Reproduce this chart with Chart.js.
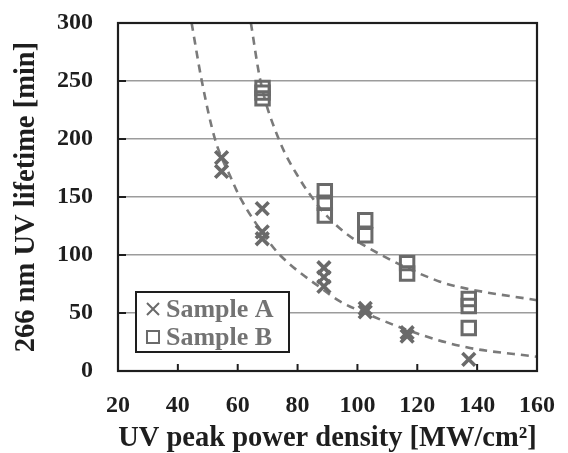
<!DOCTYPE html>
<html>
<head>
<meta charset="utf-8">
<script src="https://cdn.jsdelivr.net/npm/chart.js@4.4.0/dist/chart.umd.min.js"></script>
<style>
  html, body { margin: 0; padding: 0; background: #fff; }
  #wrap { width: 568px; height: 453px; }
</style>
</head>
<body>
<div id="wrap"><canvas id="chart"></canvas></div>
<script>
// measured points
const powerA = [54.6, 54.6, 68.2, 68.2, 68.2, 88.8, 88.8, 88.8, 102.6, 102.6, 116.6, 116.6, 137.2];
const lifeA  = [184, 172, 140, 120, 114, 89, 81, 73, 54, 51, 33, 30, 10];
const powerB = [68.3, 68.3, 68.3, 89.1, 89.1, 89.1, 102.6, 102.6, 116.6, 116.6, 137.2, 137.2, 137.2];
const lifeB  = [244, 240, 235, 155, 145, 134, 130, 117, 93, 84, 62, 56, 37];

// dashed fit curves
const fitAx = [44.6, 48, 52.4, 58, 60.7, 69.7, 74.1, 88.6, 94.2, 102.5, 119.8, 136.5, 160];
const fitAy = [300, 250, 200, 165, 150, 114, 100, 70, 60, 50, 32.5, 20.4, 12.3];
const fitBx = [64.4, 67.6, 73.7, 80.8, 85.3, 88.6, 96, 108, 127.6, 136.5, 160];
const fitBy = [300, 250, 200, 165, 148, 137, 119, 100, 77, 71, 61];

const xTicks = [20, 40, 60, 80, 100, 120, 140, 160];
const yTicks = [0, 50, 100, 150, 200, 250, 300];

const FONT = 'Liberation Serif';
const markGray = '#6a6a6a';
const ink = '#1e1e1e';

const toPts = (xs, ys) => xs.map((x, i) => ({ x: x, y: ys[i] }));

// frame, inward tick marks and the boxed legend
const decor = {
  id: 'decor',
  afterDraw(chart) {
    const ctx = chart.ctx;
    const a = chart.chartArea;
    const xs = chart.scales.x, ys = chart.scales.y;
    ctx.save();
    ctx.strokeStyle = ink;
    ctx.lineWidth = 2;
    ctx.beginPath();
    xTicks.slice(1, -1).forEach(v => {
      const px = xs.getPixelForValue(v);
      ctx.moveTo(px, a.bottom);
      ctx.lineTo(px, a.bottom - 7);
    });
    yTicks.slice(1, -1).forEach(v => {
      const py = ys.getPixelForValue(v);
      ctx.moveTo(a.left, py);
      ctx.lineTo(a.left + 8, py);
    });
    ctx.stroke();
    ctx.lineWidth = 2.2;
    ctx.strokeRect(a.left, a.top, a.right - a.left, a.bottom - a.top);

    // legend
    const lx = a.left + 18, ly = a.bottom - 79;
    ctx.fillStyle = '#fff';
    ctx.fillRect(lx, ly, 153, 60);
    ctx.lineWidth = 2;
    ctx.strokeRect(lx, ly, 153, 60);
    const items = [chart.data.datasets[0], chart.data.datasets[1]];
    items.forEach((ds, i) => {
      const cy = ly + 17 + i * 28;
      ctx.strokeStyle = markGray;
      ctx.fillStyle = 'rgba(0,0,0,0)';
      Chart.helpers.drawPoint(ctx, {
        pointStyle: ds.pointStyle, radius: 8.5,
        borderWidth: i === 0 ? 3 : 2.2, rotation: 0
      }, lx + 17, cy);
      ctx.fillStyle = '#737373';
      ctx.font = 'bold 26px "' + FONT + '"';
      ctx.textBaseline = 'middle';
      ctx.textAlign = 'left';
      ctx.fillText(ds.label, lx + 30, cy + 1);
    });
    ctx.restore();
  }
};

new Chart(document.getElementById('chart'), {
  type: 'scatter',
  data: {
    datasets: [
      {
        label: 'Sample A',
        data: toPts(powerA, lifeA),
        pointStyle: 'crossRot',
        pointRadius: 9,
        pointBorderWidth: 3.6,
        borderColor: markGray,
        backgroundColor: markGray,
        order: 1
      },
      {
        label: 'Sample B',
        data: toPts(powerB, lifeB),
        pointStyle: 'rect',
        pointRadius: 9.5,
        pointBorderWidth: 3,
        borderColor: markGray,
        backgroundColor: 'rgba(0,0,0,0)',
        order: 1
      },
      {
        label: 'fit A',
        data: toPts(fitAx, fitAy),
        showLine: true,
        pointRadius: 0,
        borderColor: '#7a7a7a',
        borderWidth: 2.6,
        borderDash: [8, 6],
        cubicInterpolationMode: 'monotone',
        order: 2
      },
      {
        label: 'fit B',
        data: toPts(fitBx, fitBy),
        showLine: true,
        pointRadius: 0,
        borderColor: '#7a7a7a',
        borderWidth: 2.6,
        borderDash: [8, 6],
        cubicInterpolationMode: 'monotone',
        order: 2
      }
    ]
  },
  options: {
    responsive: true,
    maintainAspectRatio: false,
    animation: false,
    layout: { padding: { top: 23, right: 31, left: 0, bottom: 0 } },
    plugins: {
      legend: { display: false },
      tooltip: { enabled: false }
    },
    scales: {
      x: {
        type: 'linear',
        min: 20, max: 160,
        afterBuildTicks: s => { s.ticks = xTicks.map(v => ({ value: v })); },
        afterFit: s => { s.height = 82; },
        grid: { drawOnChartArea: false, drawTicks: true, tickLength: 20, tickColor: 'rgba(0,0,0,0)' },
        border: { display: false },
        ticks: { padding: 0, color: ink, font: { family: FONT, size: 24, weight: 'bold' } },
        title: {
          display: true,
          text: 'UV peak power density [MW/cm²]',
          color: ink,
          font: { family: FONT, size: 28.5, weight: 'bold', lineHeight: 1 },
          padding: { top: 0, bottom: 0 }
        }
      },
      y: {
        min: 0, max: 300,
        afterBuildTicks: s => { s.ticks = yTicks.map(v => ({ value: v })); },
        afterFit: s => { s.width = 118; },
        grid: { color: '#9c9c9c', lineWidth: 1.5, drawTicks: true, tickLength: 25, tickColor: 'rgba(0,0,0,0)' },
        border: { display: false },
        ticks: { padding: 0, color: ink, font: { family: FONT, size: 24, weight: 'bold' } },
        title: {
          display: true,
          text: '266 nm UV lifetime [min]',
          color: ink,
          font: { family: FONT, size: 28.5, weight: 'bold', lineHeight: 1.2 },
          padding: { top: 10, bottom: 0 }
        }
      }
    }
  },
  plugins: [decor]
});
</script>
</body>
</html>
